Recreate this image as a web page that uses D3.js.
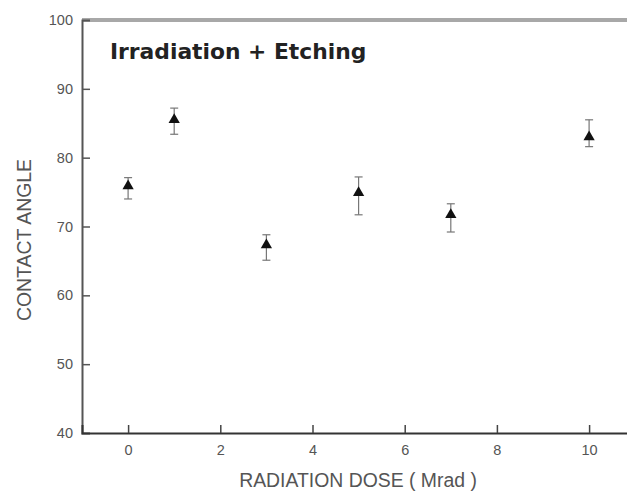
<!DOCTYPE html>
<html>
<head>
<meta charset="utf-8">
<script src="https://cdn.jsdelivr.net/npm/d3@7"></script>
<style>
  body { margin: 0; background: #fff; }
  svg { display: block; }
  .tick text { font: 14.5px "Liberation Sans", Arial, sans-serif; fill: #555; }
  .lbl { font: 19.4px "Liberation Sans", Arial, sans-serif; fill: #555; }
  .title { font: bold 21.8px "DejaVu Sans", Verdana, sans-serif; fill: #222; }
</style>
</head>
<body>
<svg id="chart" width="627" height="492"></svg>
<script>
// radiation dose (Mrad) and measured contact angle
var doses = [0, 1, 3, 5, 7, 10];
var angles = [75.9, 85.5, 67.3, 74.9, 71.7, 83.0];
var errUp = [1.2, 1.7, 1.5, 2.3, 1.6, 2.5];
var errDown = [1.9, 2.1, 2.2, 3.2, 2.5, 1.4];
var xTicks = [0, 2, 4, 6, 8, 10];
var yTicks = [40, 50, 60, 70, 80, 90, 100];

var svg = d3.select("#chart"),
    marginL = 82, marginT = 20, baseY = 433;

var x = d3.scaleLinear().domain([-1, 11]).range([marginL, marginL + 12 * 46.1]);
var y = d3.scaleLinear().domain([40, 100]).range([baseY, marginT]);

var data = doses.map(function(d, i) {
  return { x: d, y: angles[i], hi: angles[i] + errUp[i], lo: angles[i] - errDown[i] };
});

// frame: light top line, axes on left and bottom
svg.append("line")
  .attr("x1", marginL).attr("x2", 627)
  .attr("y1", marginT).attr("y2", marginT)
  .attr("stroke", "#a8a8a8").attr("stroke-width", 4);

var yAxis = svg.append("g")
  .attr("transform", "translate(" + marginL + ",0)")
  .call(d3.axisRight(y).tickValues(yTicks).tickSize(8).tickFormat(d3.format("d")));
yAxis.select(".domain").attr("stroke", "#555").attr("stroke-width", 2);
yAxis.selectAll(".tick line").attr("stroke", "#555").attr("stroke-width", 1.5);
yAxis.selectAll(".tick text").attr("x", -9).attr("text-anchor", "end");
yAxis.selectAll(".tick").filter(function(d) { return d === 40 || d === 100; }).select("line").remove();

var xAxis = svg.append("g")
  .attr("transform", "translate(0," + baseY + ")")
  .call(d3.axisTop(x).tickValues(xTicks).tickSize(8));
xAxis.select(".domain").attr("stroke", "#333").attr("stroke-width", 2);
xAxis.selectAll(".tick line").attr("stroke", "#444").attr("stroke-width", 1.5);
xAxis.selectAll(".tick text").attr("y", 22).attr("dy", 0);

// error bars
var eb = svg.append("g").attr("stroke", "#777").attr("stroke-width", 1.2);
eb.selectAll(".stem").data(data).enter().append("line")
  .attr("x1", function(d) { return x(d.x); }).attr("x2", function(d) { return x(d.x); })
  .attr("y1", function(d) { return y(d.hi); }).attr("y2", function(d) { return y(d.lo); });
eb.selectAll(".capH").data(data).enter().append("line")
  .attr("x1", function(d) { return x(d.x) - 4; }).attr("x2", function(d) { return x(d.x) + 4; })
  .attr("y1", function(d) { return y(d.hi); }).attr("y2", function(d) { return y(d.hi); });
eb.selectAll(".capL").data(data).enter().append("line")
  .attr("x1", function(d) { return x(d.x) - 4; }).attr("x2", function(d) { return x(d.x) + 4; })
  .attr("y1", function(d) { return y(d.lo); }).attr("y2", function(d) { return y(d.lo); });

// triangle markers
svg.append("g").selectAll("path").data(data).enter().append("path")
  .attr("d", d3.symbol().type(d3.symbolTriangle).size(55))
  .attr("transform", function(d) { return "translate(" + x(d.x) + "," + y(d.y) + ")"; })
  .attr("fill", "#111");

// labels
svg.append("text").attr("class", "title")
  .attr("x", 110).attr("y", 59)
  .text("Irradiation + Etching");

svg.append("text").attr("class", "lbl")
  .attr("x", 358).attr("y", 487).attr("text-anchor", "middle")
  .text("RADIATION DOSE ( Mrad )");

svg.append("text").attr("class", "lbl")
  .attr("transform", "translate(31,240) rotate(-90)").attr("text-anchor", "middle")
  .text("CONTACT ANGLE");
</script>
</body>
</html>
